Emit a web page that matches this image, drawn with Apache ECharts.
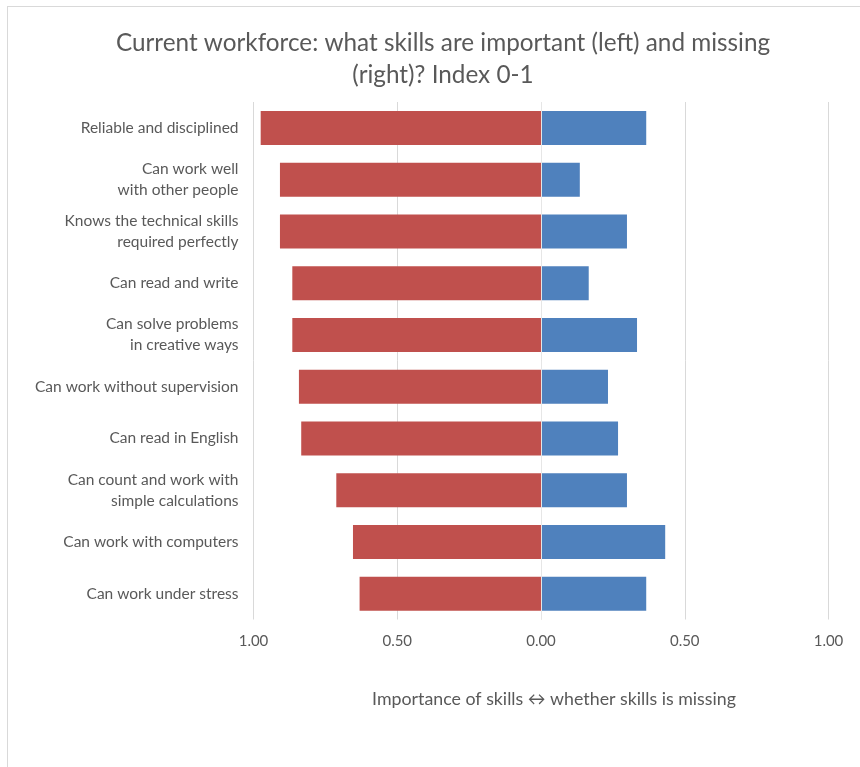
<!DOCTYPE html>
<html>
<head>
<meta charset="utf-8">
<script src="https://cdn.jsdelivr.net/npm/echarts@6/dist/echarts.min.js"></script>
<style>
  html, body { margin: 0; padding: 0; background: #ffffff; }
  #frame { position: absolute; left: 7px; top: 6px; width: 900px; height: 800px; border-left: 1px solid #d9d9d9; border-top: 1px solid #d9d9d9; }
  #chart { position: absolute; left: 0; top: 0; width: 860px; height: 767px; }
</style>
</head>
<body>
<div id="frame"></div>
<div id="chart"></div>
<script>
// Skills, top to bottom
const skills = [
  'Reliable and disciplined',
  'Can work well\nwith other people',
  'Knows the technical skills\nrequired perfectly',
  'Can read and write',
  'Can solve problems\nin creative ways',
  'Can work without supervision',
  'Can read in English',
  'Can count and work with\nsimple calculations',
  'Can work with computers',
  'Can work under stress'
];

// Importance index (drawn to the left of zero)
const importance = [0.975, 0.908, 0.908, 0.865, 0.865, 0.842, 0.834, 0.712, 0.654, 0.631];

// Missing index (drawn to the right of zero)
const missing = [0.366, 0.135, 0.299, 0.166, 0.334, 0.233, 0.268, 0.299, 0.432, 0.366];

const xTicks = [-1, -0.5, 0, 0.5, 1];

const FONT = 'Lato, "Open Sans", sans-serif';
const GREY = '#595959';

const chart = echarts.init(document.getElementById('chart'), null, { renderer: 'canvas' });

chart.setOption({
  backgroundColor: 'transparent',
  animation: false,
  title: {
    text: 'Current workforce: what skills are important (left) and missing\n(right)? Index 0-1',
    left: 438,
    top: 22,
    textAlign: 'center',
    textStyle: { fontFamily: FONT, fontSize: 24.3, fontWeight: 'normal', color: GREY, lineHeight: 32 }
  },
  grid: { left: 253.5, right: 31.5, top: 102, bottom: 147.5, containLabel: false },
  xAxis: {
    type: 'value',
    min: xTicks[0],
    max: xTicks[xTicks.length - 1],
    interval: 0.5,
    axisLine: { show: false },
    axisTick: { show: false },
    splitLine: { show: true, lineStyle: { color: '#d9d9d9', width: 1 } },
    axisLabel: {
      margin: 14,
      fontFamily: FONT, fontSize: 15, color: GREY,
      formatter: v => Math.abs(v).toFixed(2)
    }
  },
  yAxis: {
    type: 'category',
    data: skills,
    inverse: true,
    axisLine: { show: false },
    axisTick: { show: false },
    axisLabel: {
      margin: 15,
      fontFamily: FONT, fontSize: 15.5, color: GREY, lineHeight: 21, align: 'right'
    }
  },
  graphic: [{
    type: 'text',
    x: 554,
    y: 699,
    style: {
      text: 'Importance of skills \u2194 whether skills is missing',
      font: '17.8px ' + FONT,
      fill: GREY,
      textAlign: 'center',
      textVerticalAlign: 'middle'
    }
  }],
  series: [
    {
      name: 'Importance',
      type: 'bar',
      stack: 'skills',
      barWidth: 34,
      data: importance.map(v => -v),
      itemStyle: { color: '#C0504D' },
      markLine: {
        silent: true,
        symbol: 'none',
        label: { show: false },
        lineStyle: { color: '#e6e6e6', type: 'solid', width: 1 },
        data: [{ xAxis: 0 }]
      }
    },
    {
      name: 'Missing',
      type: 'bar',
      stack: 'skills',
      barWidth: 34,
      data: missing,
      itemStyle: { color: '#4F81BD' }
    }
  ]
});
</script>
</body>
</html>
